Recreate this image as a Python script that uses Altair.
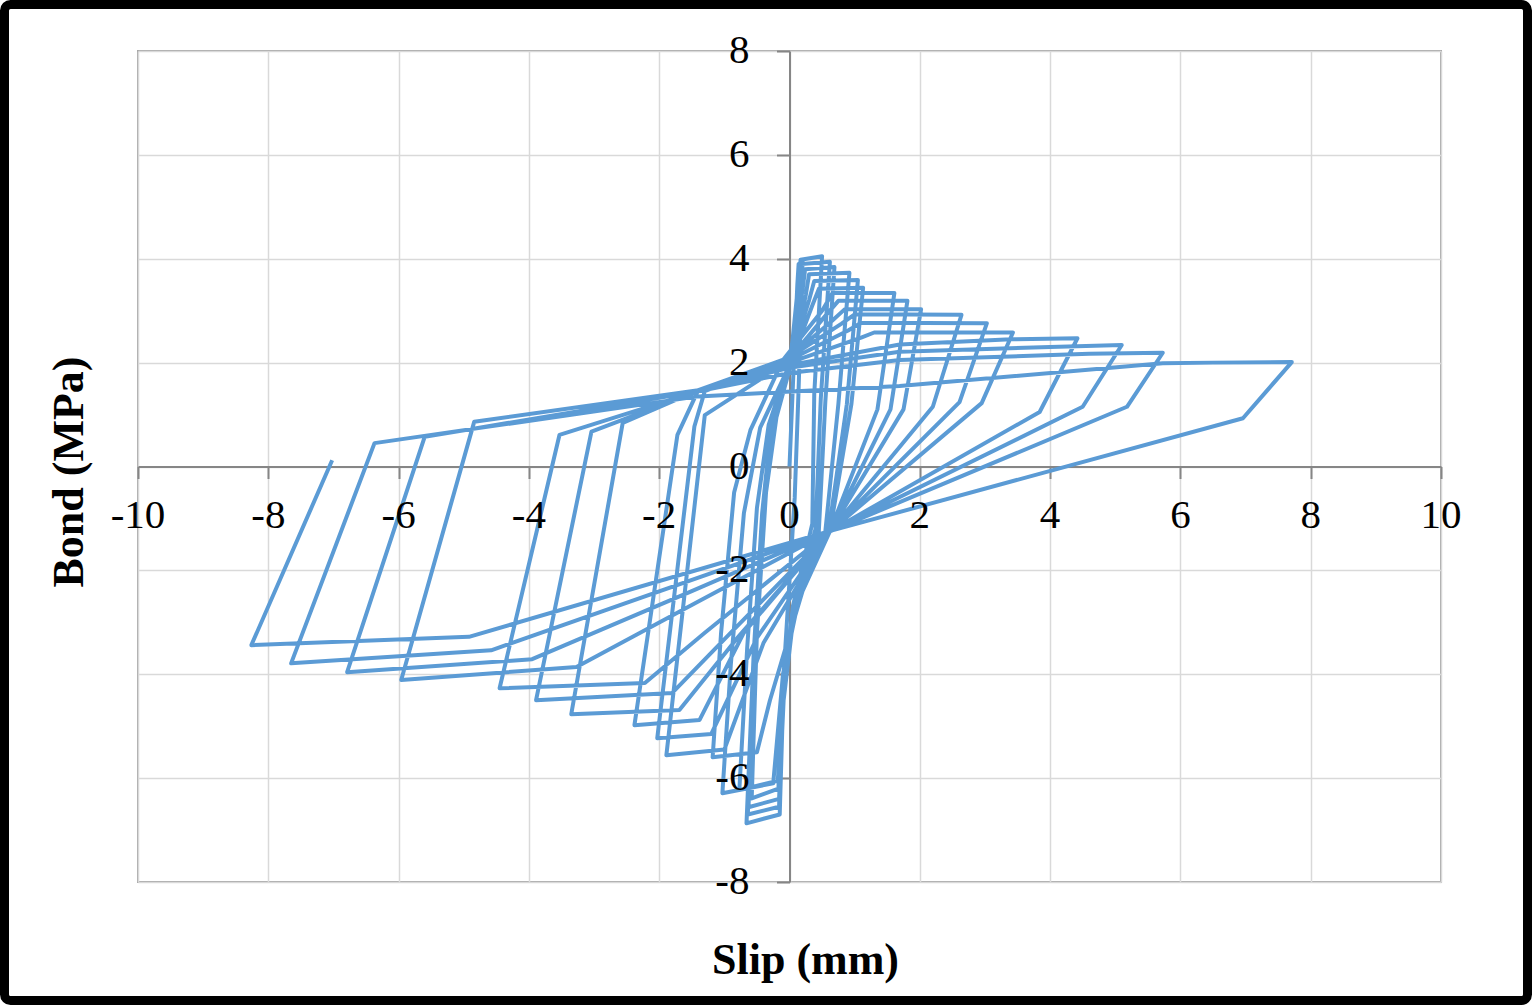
import altair as alt
import pandas as pd

# ---- data (slip in mm, bond in MPa), in test order ----
slip = [
    # cycle 1
    0.00, 0.06, 0.12, 0.14, 0.20, 0.14, 0.08, -0.02, -0.12, -0.17, -0.58, -0.50, -0.38, -0.22,
    # cycle 2
    0.02, 0.14, 0.17, 0.50, 0.38, 0.35, 0.05, -0.10, -0.15, -0.66, -0.55, -0.42, -0.28,
    # cycle 3
    0.00, 0.16, 0.19, 0.62, 0.48, 0.40, 0.06, -0.10, -0.16, -0.64, -0.53, -0.40, -0.25,
    # cycle 4
    0.02, 0.20, 0.24, 0.69, 0.55, 0.45, 0.07, -0.09, -0.16, -0.63, -0.50, -0.36, -0.20,
    # cycle 5
    0.05, 0.25, 0.30, 0.92, 0.75, 0.55, 0.10, -0.08, -0.18, -0.77, -0.65, -0.50, -0.32,
    # cycle 6
    0.00, 0.30, 0.38, 1.05, 0.88, 0.60, 0.15, -0.10, -0.25, -1.03, -0.90, -0.70, -0.45,
    # cycle 7
    0.02, 0.35, 0.45, 1.13, 0.95, 0.62, 0.20, -0.30, -0.50, -1.18, -1.05, -0.85, -0.60,
    # cycle 8
    -0.10, 0.50, 0.66, 1.61, 1.35, 0.62, -0.40, -1.00, -1.89, -1.30,
    # cycle 9
    -0.05, 0.55, 0.75, 1.81, 1.55, 0.62, -0.50, -1.20, -2.03, -1.46,
    # cycle 10
    -1.30, 0.00, 0.65, 0.85, 2.02, 1.75, 0.62, -0.70, -1.38, -2.38, -1.72,
    # cycle 11
    -1.40, 0.00, 0.80, 1.00, 2.64, 2.20, 0.62, -0.80, -1.69, -3.35, -2.56,
    # cycle 12
    -1.40, 0.00, 0.90, 1.10, 3.03, 2.61, 0.62, -0.90, -1.80, -3.89, -3.04,
    # cycle 13
    -1.40, 0.00, 1.10, 1.30, 3.43, 2.95, 0.62, -1.30, -2.22, -4.45, -3.53,
    # cycle 14
    -1.40, 0.00, 1.69, 3.40, 4.42, 3.84, 0.62, -1.40, -3.27, -5.96, -4.84,
    # cycle 15
    -1.40, 0.00, 1.69, 4.00, 5.10, 4.50, 0.62, -1.50, -3.95, -6.79, -5.60,
    # cycle 16
    -1.40, 0.00, 1.69, 4.60, 5.73, 5.18, 0.62, -4.58, -7.65, -6.37,
    # cycle 17
    -1.40, 1.69, 5.73, 6.50, 7.71, 6.96, 0.60, -4.92, -8.26, -7.02,
]

bond = [
    # cycle 1
    0.00, 1.80, 3.50, 3.90, 3.94, 1.50, -0.60, -2.60, -4.60, -6.20, -6.39, -3.20, -0.60, 0.90,
    # cycle 2
    2.10, 3.60, 3.98, 4.05, 1.40, -1.10, -2.70, -4.60, -6.70, -6.87, -3.60, -0.90, 0.80,
    # cycle 3
    2.00, 3.50, 3.90, 3.94, 1.30, -1.20, -2.75, -4.55, -6.55, -6.70, -3.40, -0.70, 0.85,
    # cycle 4
    2.05, 3.40, 3.80, 3.84, 1.25, -1.25, -2.80, -4.50, -6.40, -6.56, -3.20, -0.50, 0.95,
    # cycle 5
    2.10, 3.30, 3.70, 3.73, 1.20, -1.25, -2.60, -4.20, -6.05, -6.23, -3.50, -0.80, 0.80,
    # cycle 6
    2.00, 3.20, 3.57, 3.59, 1.20, -1.25, -2.50, -4.00, -6.10, -6.29, -3.80, -0.90, 0.75,
    # cycle 7
    2.00, 3.10, 3.42, 3.44, 1.20, -1.25, -2.40, -4.50, -5.50, -5.60, -3.20, -0.50, 0.70,
    # cycle 8
    2.05, 3.00, 3.34, 3.34, 1.10, -1.25, -3.40, -5.45, -5.56, 0.99,
    # cycle 9
    2.00, 2.90, 3.19, 3.19, 1.10, -1.25, -3.30, -5.15, -5.23, 0.77,
    # cycle 10
    1.45, 2.10, 2.80, 3.03, 3.03, 1.10, -1.25, -3.20, -4.88, -4.98, 0.61,
    # cycle 11
    1.47, 2.10, 2.75, 2.93, 2.92, 1.15, -1.25, -3.30, -4.69, -4.77, 0.84,
    # cycle 12
    1.47, 2.05, 2.62, 2.77, 2.76, 1.24, -1.25, -3.20, -4.36, -4.50, 0.67,
    # cycle 13
    1.45, 2.00, 2.48, 2.58, 2.58, 1.22, -1.25, -3.20, -4.17, -4.27, 0.61,
    # cycle 14
    1.45, 1.95, 2.35, 2.45, 2.47, 1.05, -1.25, -2.60, -3.86, -4.11, 0.86,
    # cycle 15
    1.47, 1.90, 2.21, 2.30, 2.34, 1.15, -1.25, -2.40, -3.71, -3.96, 0.57,
    # cycle 16
    1.45, 1.80, 2.05, 2.17, 2.19, 1.15, -1.25, -3.54, -3.79, 0.45,
    # cycle 17
    1.35, 1.55, 1.99, 2.00, 2.01, 0.93, -1.25, -3.28, -3.44, 0.12,
]

x_ticks = [-10, -8, -6, -4, -2, 0, 2, 4, 6, 8, 10]
y_ticks = [-8, -6, -4, -2, 0, 2, 4, 6, 8]

df = pd.DataFrame({"step": list(range(len(slip))), "slip": slip, "bond": bond})
x_lab = pd.DataFrame({"v": x_ticks, "lab": [str(v) for v in x_ticks]})
y_lab = pd.DataFrame({"v": y_ticks, "lab": [str(v) for v in y_ticks]})

FONT = "Liberation Serif"
W, H = 1303, 831
AXIS_GREY = "#868686"
GRID_GREY = "#d9d9d9"
X_TITLE = "Slip (mm)"
Y_TITLE = "Bond (MPa)"

x_scale = alt.Scale(domain=[-10, 10], nice=False, zero=False)
y_scale = alt.Scale(domain=[-8, 8], nice=False, zero=False)

x_axis = alt.Axis(
    values=x_ticks, offset=-H / 2, grid=True, gridColor=GRID_GREY, gridWidth=1.5,
    domainColor=AXIS_GREY, domainWidth=2, tickColor=AXIS_GREY, tickWidth=2, tickSize=12,
    labels=False,
    title=X_TITLE, titleFont=FONT, titleFontSize=44, titleFontWeight="bold",
    titleColor="black", titleX=667, titleY=494, titleBaseline="middle", titleAlign="center",
)
y_axis = alt.Axis(
    values=y_ticks, offset=-W / 2, grid=True, gridColor=GRID_GREY, gridWidth=1.5,
    domainColor=AXIS_GREY, domainWidth=2, tickColor=AXIS_GREY, tickWidth=2, tickSize=13,
    labels=False,
    title=Y_TITLE, titleFont=FONT, titleFontSize=44, titleFontWeight="bold",
    titleColor="black", titleX=-720, titleY=H / 2 + 5, titleAngle=270,
    titleBaseline="middle", titleAlign="center",
)

line = alt.Chart(df).mark_line(color="#5b9bd5", strokeWidth=4, strokeJoin="round").encode(
    x=alt.X("slip:Q", scale=x_scale, axis=x_axis),
    y=alt.Y("bond:Q", scale=y_scale, axis=y_axis),
    order=alt.Order("step:Q"),
)

# tick labels drawn above the series, as in the original
x_text = alt.Chart(x_lab).mark_text(
    font=FONT, fontSize=41, color="black", baseline="top", align="center", dy=29
).encode(
    x=alt.X("v:Q", scale=x_scale, title=X_TITLE),
    y=alt.YDatum(0, scale=y_scale, title=Y_TITLE),
    text="lab:N",
)
y_text = alt.Chart(y_lab).mark_text(
    font=FONT, fontSize=41, color="black", baseline="middle", align="right", dx=-40
).encode(
    x=alt.XDatum(0, scale=x_scale, title=X_TITLE),
    y=alt.Y("v:Q", scale=y_scale, title=Y_TITLE),
    text="lab:N",
)

frame = alt.Chart(pd.DataFrame({"k": [0]})).mark_rect(
    fillOpacity=0, stroke="black", strokeWidth=9, cornerRadius=6
).encode(
    x=alt.value(-133.5), x2=alt.value(1389.5), y=alt.value(-46.5), y2=alt.value(949.5)
)

chart = alt.layer(line, x_text, y_text, frame).properties(
    width=W, height=H, autosize="none",
    padding={"left": 138, "top": 51, "right": 91, "bottom": 123},
    background="white",
).configure_view(stroke="#a6a6a6", strokeWidth=2)

chart.save("out.html", embed_options={"renderer": "svg", "actions": False})
